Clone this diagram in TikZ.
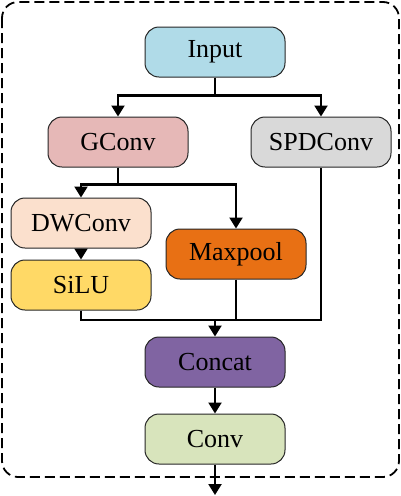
\documentclass[tikz,border=0pt]{standalone}
\usepackage{fontspec}
\setmainfont{Liberation Serif}
\usetikzlibrary{arrows.meta,positioning}
\definecolor{inblue}{RGB}{176,219,232}
\definecolor{gpink}{RGB}{230,184,183}
\definecolor{spdgray}{RGB}{217,217,217}
\definecolor{dwpeach}{RGB}{251,224,205}
\definecolor{siluyellow}{RGB}{255,217,102}
\definecolor{poolorange}{RGB}{232,112,20}
\definecolor{catpurple}{RGB}{128,100,162}
\definecolor{convgreen}{RGB}{216,228,188}

\begin{document}
\begin{tikzpicture}[x=1pt,y=-1pt,
		block/.style={draw=black!85,rounded corners=14pt,line width=1pt,
				minimum width=140pt,minimum height=50pt,inner sep=0pt,
				font=\fontsize{26}{30}\selectfont},
		arr/.style={-{Triangle[length=11pt,width=13pt]},line width=2.2pt},
		lin/.style={line width=2.2pt}]
	\useasboundingbox (0,0) rectangle (401,496);
	\draw[dashed,dash pattern=on 10pt off 5pt,line width=1.8pt,rounded corners=16pt]
		(2,2) rectangle (399,477);
	\node[block,fill=inblue]     (in)     at (215,52)  {Input};
	\node[block,fill=gpink]      (gconv)  at (118,142) {GConv};
	\node[block,fill=spdgray]    (spd)    at (321,142) {SPDConv};
	\node[block,fill=dwpeach]    (dw)     at (81,223)  {DWConv};
	\node[block,fill=siluyellow] (silu)   at (81,285)  {SiLU};
	\node[block,fill=poolorange] (pool)   at (236,254) {Maxpool};
	\node[block,fill=catpurple]  (concat) at (215,362) {Concat};
	\node[block,fill=convgreen]  (conv)   at (215,439) {Conv};
	\coordinate (mrg) at (215,320);
	\coordinate (out) at (215,495);
	% input branches
	\draw[arr] (in.south) -- ++(0,18) -| (gconv.north);
	\draw[arr] (in.south) -- ++(0,18) -| (spd.north);
	% gconv branches
	\draw[arr] (gconv.south) -- ++(0,17) -| (dw.north);
	\draw[arr] (gconv.south) -- ++(0,17) -| (pool.north);
	\draw[arr] (dw) -- (silu);
	% merge
	\draw[lin] (silu.south) |- (mrg) -| (spd.south);
	\draw[lin] (pool.south) -- (pool.south |- mrg);
	\draw[arr] (mrg) -- (concat.north);
	\draw[arr] (concat) -- (conv);
	\draw[arr] (conv.south) -- (out);
\end{tikzpicture}
\end{document}
